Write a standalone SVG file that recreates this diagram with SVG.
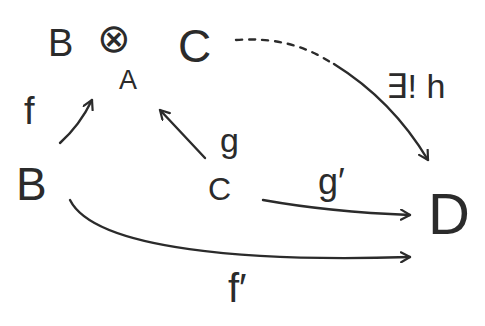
<svg xmlns="http://www.w3.org/2000/svg" width="485" height="326" viewBox="0 0 485 326">
<defs>
<marker id="ah" viewBox="0 0 12 12" refX="10" refY="6" markerWidth="12" markerHeight="12" markerUnits="userSpaceOnUse" orient="auto">
<path d="M1,1 L10,6 L1,11" fill="none" stroke="#2b2b2b" stroke-width="2.2" stroke-linecap="round" stroke-linejoin="round"/>
</marker>
<style>
.t{font-family:"Liberation Sans","DejaVu Sans",sans-serif;fill:#2b2b2b;}
.e{fill:none;stroke:#2b2b2b;stroke-width:2.4;stroke-linecap:round;}
</style>
</defs>
<rect width="485" height="326" fill="#ffffff"/>
<g id="node-BxA">
<text class="t" x="48" y="56" font-size="38">B</text>
<text class="t" x="97" y="52" font-size="40">⊗</text>
<text class="t" x="119" y="89" font-size="27">A</text>
</g>
<g id="node-C-top"><text class="t" x="178" y="62" font-size="46">C</text></g>
<g id="node-B"><text class="t" x="16" y="200" font-size="46">B</text></g>
<g id="node-C"><text class="t" x="208" y="200" font-size="32">C</text></g>
<g id="node-D"><text class="t" x="428" y="234" font-size="58">D</text></g>
<g id="labels">
<text class="t" x="24" y="124" font-size="38">f</text>
<text class="t" x="220" y="152" font-size="34">g</text>
<text class="t" x="318" y="194" font-size="36">g′</text>
<text class="t" x="228" y="302" font-size="40">f′</text>
<text class="t" x="386" y="98" font-size="34">∃! h</text>
</g>
<g id="connectors">
<path class="e" d="M60,143 Q80,125 92,100" marker-end="url(#ah)"/>
<path class="e" d="M205,158 L160,110" marker-end="url(#ah)"/>
<path class="e" d="M236,40 Q290,36 330,62" stroke-dasharray="6,7"/>
<path class="e" d="M334,64 Q392,100 428,160" marker-end="url(#ah)"/>
<path class="e" d="M263,200 Q330,212 410,215" marker-end="url(#ah)"/>
<path class="e" d="M70,200 C95,250 250,262 410,257" marker-end="url(#ah)"/>
</g>
</svg>
